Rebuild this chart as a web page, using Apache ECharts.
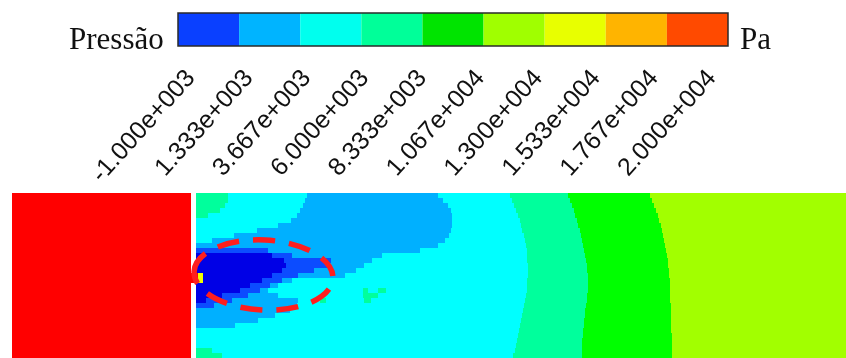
<!DOCTYPE html>
<html><head><meta charset="utf-8">
<script src="https://cdn.jsdelivr.net/npm/echarts@6/dist/echarts.min.js"></script>
<style>html,body{margin:0;padding:0;background:#fff}#c{width:846px;height:358px}</style>
</head><body><div id="c"></div>
<script>
// ---- colour bar ----
const tickLabels = ['-1.000e+003','1.333e+003','3.667e+003','6.000e+003','8.333e+003',
                    '1.067e+004','1.300e+004','1.533e+004','1.767e+004','2.000e+004'];
const barBins = [0,1,2,3,4,5,6,7,8];
const barColors = ['#0a40ff','#00b4ff','#00ffee','#00ff99','#00e400','#a0ff00','#e8ff00','#ffb400','#ff4a00'];

// ---- pressure field (levels: 0 below min, 1..8 bins of the bar, 9 solid body) ----
const fieldColors = {0:'#0000e6',1:'#0c4cff',2:'#00b0ff',3:'#00ffff',4:'#00ff9c',5:'#00ff00',6:'#a2ff00',7:'#f0ff00',9:'#ff0000'};
const fieldXMax = 846;
const fieldYMax = 165;
const rowStep = 5;
const solidBlock = [[9, 12, 191]];
// each row: list of [level, x where level starts]
const fieldRows = [
 [[4,196],[3,228],[2,307],[3,438],[4,510],[5,568],[6,650]],
 [[4,196],[3,228],[2,305],[3,443],[4,512],[5,570],[6,652]],
 [[4,196],[3,225],[2,303],[3,448],[4,514],[5,572],[6,654]],
 [[4,196],[3,220],[2,300],[3,451],[4,516],[5,574],[6,656]],
 [[4,196],[3,208],[2,297],[3,452],[4,518],[5,575],[6,658]],
 [[3,196],[2,291],[3,452],[4,520],[5,577],[6,659]],
 [[3,196],[2,278],[3,452],[4,521],[5,578],[6,661]],
 [[3,196],[2,257],[3,451],[4,522],[5,580],[6,662]],
 [[3,196],[2,234],[3,449],[4,524],[5,581],[6,663]],
 [[3,196],[2,212],[3,445],[4,525],[5,582],[6,664]],
 [[2,196],[3,438],[4,526],[5,583],[6,665]],
 [[1,196],[2,268],[3,420],[4,527],[5,584],[6,666]],
 [[0,196],[1,272],[2,292],[3,382],[4,527],[5,585],[6,667]],
 [[0,196],[1,284],[2,331],[3,372],[4,527],[5,586],[6,668]],
 [[0,196],[1,286],[2,328],[3,364],[4,528],[5,587],[6,668]],
 [[0,196],[1,282],[2,314],[3,356],[4,528],[5,587],[6,669]],
 [[9,191],[7,198],[0,203],[1,272],[2,298],[3,345],[4,528],[5,588],[6,669]],
 [[9,191],[7,198],[0,203],[1,262],[2,282],[3,292],[4,527],[5,588],[6,670]],
 [[0,196],[1,250],[2,270],[3,278],[4,527],[5,588],[6,670]],
 [[0,196],[1,240],[2,260],[3,268],[4,363],[3,368],[4,378],[3,386],[4,527],[5,588],[6,670]],
 [[0,196],[1,222],[2,248],[3,278],[4,363],[3,378],[4,526],[5,587],[6,670]],
 [[0,196],[1,206],[2,232],[3,298],[4,320],[3,326],[4,364],[3,371],[4,525],[5,587],[6,670]],
 [[1,196],[2,214],[3,297],[4,524],[5,586],[6,671]],
 [[2,196],[3,290],[4,523],[5,585],[6,671]],
 [[2,196],[3,275],[4,522],[5,585],[6,671]],
 [[2,196],[3,258],[4,521],[5,584],[6,671]],
 [[2,196],[3,235],[4,520],[5,584],[6,671]],
 [[3,196],[4,519],[5,583],[6,671]],
 [[3,196],[4,518],[5,583],[6,672]],
 [[3,196],[4,517],[5,582],[6,672]],
 [[3,196],[4,516],[5,582],[6,672]],
 [[4,196],[3,212],[4,515],[5,582],[6,672]],
 [[4,196],[3,222],[4,513],[5,582],[6,672]]
];
// highlighted zone: centre x, centre y, half-width, half-height
const highlight = [[263.5, 82, 69.5, 35]];

// ---- build items ----
const fieldItems = [];
solidBlock.forEach(b => fieldItems.push([b[1], b[2], 0, fieldYMax, b[0]]));
fieldRows.forEach((segs, i) => {
  segs.forEach((s, j) => {
    const x1 = j + 1 < segs.length ? segs[j + 1][1] : fieldXMax;
    fieldItems.push([s[1], x1, i * rowStep, (i + 1) * rowStep, s[0]]);
  });
});
const barItems = barBins.map(i => [i, i + 1, 0, 1, i]);

function rectFrom(api) {
  const p0 = api.coord([api.value(0), api.value(2)]);
  const p1 = api.coord([api.value(1), api.value(3)]);
  return {x: Math.min(p0[0], p1[0]), y: Math.min(p0[1], p1[1]),
          width: Math.abs(p1[0] - p0[0]), height: Math.abs(p1[1] - p0[1])};
}

const chart = echarts.init(document.getElementById('c'), null, {renderer: 'canvas'});
chart.setOption({
  animation: false,
  backgroundColor: '#ffffff',
  title: [
    {text: 'Pressão', left: 69, top: 25, padding: 0,
     textStyle: {fontFamily: 'Liberation Serif', fontSize: 31, fontWeight: 'normal', color: '#111', lineHeight: 31}},
    {text: 'Pa', left: 740, top: 25, padding: 0,
     textStyle: {fontFamily: 'Liberation Serif', fontSize: 31, fontWeight: 'normal', color: '#111', lineHeight: 31}}
  ],
  grid: [
    {left: 0, right: 0, top: 193, bottom: 0},
    {left: 178, right: 118, top: 13, height: 33},
    {left: 191, right: 134, top: 40, height: 20}
  ],
  xAxis: [
    {gridIndex: 0, type: 'value', min: 0, max: fieldXMax, show: false},
    {gridIndex: 1, type: 'value', min: 0, max: 9, show: false},
    {gridIndex: 2, type: 'value', min: 0, max: 9, interval: 1,
     axisLine: {show: false}, axisTick: {show: false}, splitLine: {show: false},
     axisLabel: {rotate: 48, margin: 14, fontSize: 25, fontFamily: 'Liberation Sans', color: '#111',
                 formatter: v => tickLabels[Math.round(v)]}}
  ],
  yAxis: [
    {gridIndex: 0, type: 'value', min: 0, max: fieldYMax, inverse: true, show: false},
    {gridIndex: 1, type: 'value', min: 0, max: 1, show: false},
    {gridIndex: 2, type: 'value', min: 0, max: 1, show: false}
  ],
  series: [
    {type: 'custom', xAxisIndex: 0, yAxisIndex: 0, silent: true, data: fieldItems,
     encode: {x: [0, 1], y: [2, 3]},
     renderItem: (p, api) => ({type: 'rect', shape: rectFrom(api), style: {fill: fieldColors[api.value(4)]}})},
    {type: 'custom', xAxisIndex: 0, yAxisIndex: 0, silent: true, data: highlight, z: 5,
     encode: {x: 0, y: 1},
     renderItem: (p, api) => {
       const c = api.coord([api.value(0), api.value(1)]);
       const s = api.size([api.value(2), api.value(3)]);
       return {type: 'ellipse', shape: {cx: c[0], cy: c[1], rx: s[0], ry: s[1]},
               rotation: -0.05, originX: c[0], originY: c[1],
               style: {fill: null, stroke: '#ff1e1e', lineWidth: 5.5, lineDash: [22, 14], lineCap: 'butt'}};
     }},
    {type: 'custom', xAxisIndex: 1, yAxisIndex: 1, silent: true, data: barItems,
     encode: {x: [0, 1], y: [2, 3]},
     renderItem: (p, api) => ({type: 'rect', shape: rectFrom(api), style: {fill: barColors[api.value(4)]}})},
    {type: 'custom', xAxisIndex: 1, yAxisIndex: 1, silent: true, data: [[0, 9, 0, 1]], z: 4,
     encode: {x: [0, 1], y: [2, 3]},
     renderItem: (p, api) => ({type: 'rect', shape: rectFrom(api), style: {fill: null, stroke: '#2a2a2a', lineWidth: 1.5}})}
  ]
});
</script></body></html>
